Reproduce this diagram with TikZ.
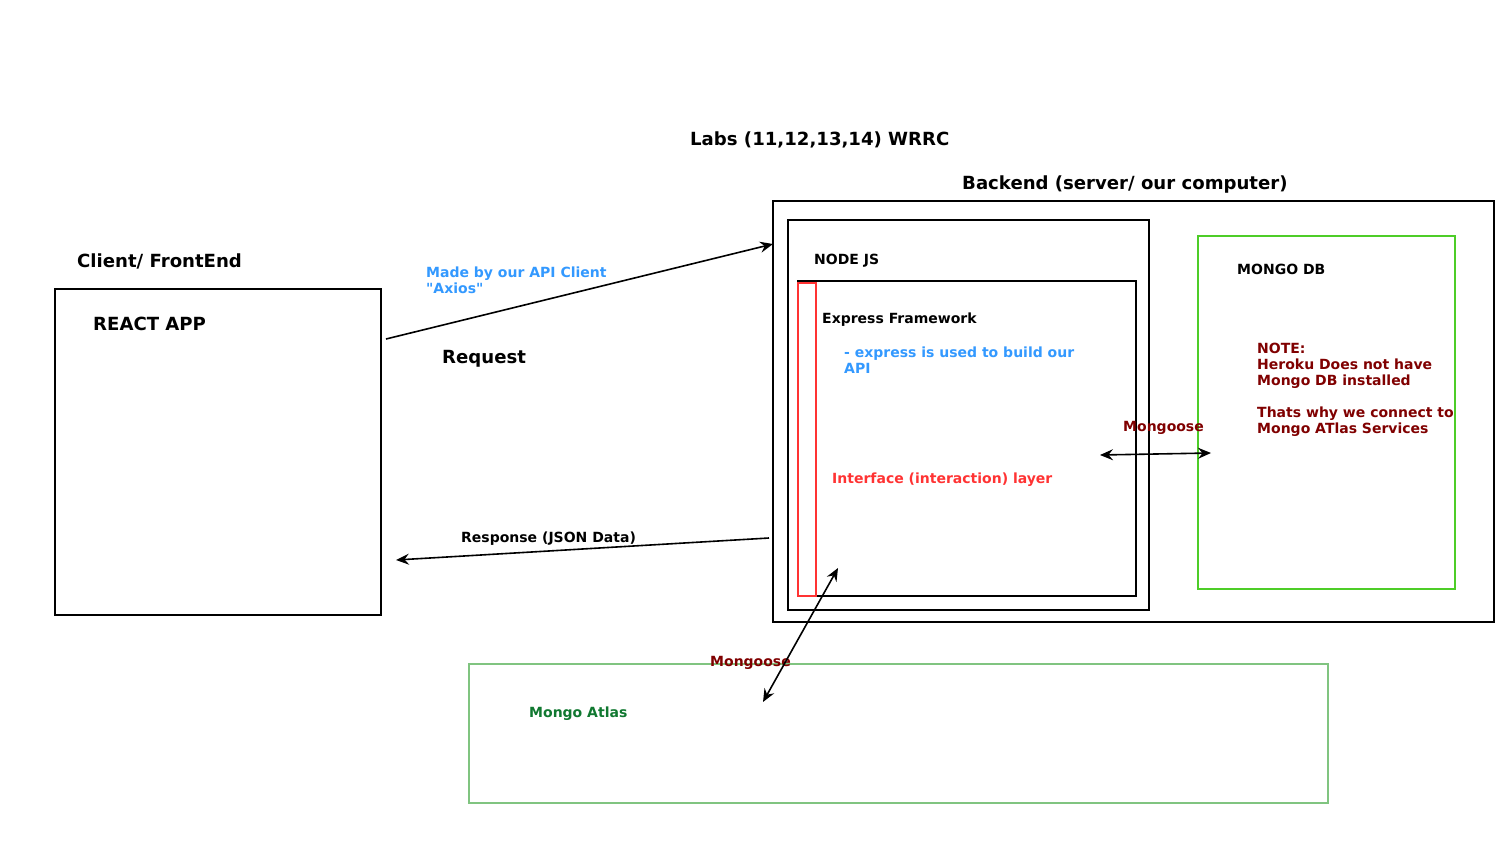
\documentclass[tikz,border=0pt]{standalone}
\usepackage{fontspec}
\setmainfont{DejaVu Sans}[Ligatures=TeXOff]
\usetikzlibrary{arrows.meta}
\definecolor{apiblue}{RGB}{51,153,255}
\definecolor{notered}{RGB}{128,0,0}
\definecolor{layerred}{RGB}{255,51,51}
\definecolor{dbgreen}{RGB}{77,205,40}
\definecolor{atlasgreen}{RGB}{128,196,128}
\definecolor{atlastext}{RGB}{16,120,48}
\begin{document}
\begin{tikzpicture}[x=1pt,y=-1pt,
  box/.style={draw=black,line width=1.6pt,inner sep=0pt,outer sep=0pt,anchor=north west},
  big/.style={inner sep=0pt,anchor=base west,font=\fontsize{18.1}{20}\selectfont\bfseries},
  small/.style={inner sep=0pt,anchor=base west,align=left,font=\fontsize{14}{16}\selectfont\bfseries},
  conn/.style={line width=1.6pt,-{Stealth[length=13pt,width=11pt,inset=4.5pt]}},
  dconn/.style={line width=1.6pt,{Stealth[length=13pt,width=11pt,inset=4.5pt]}-{Stealth[length=13pt,width=11pt,inset=4.5pt]}}]
\useasboundingbox (0,0) rectangle (1512,851);
\fill[white] (0,0) rectangle (1512,851);

% boxes
\node[box,minimum width=326pt,minimum height=326pt] (client) at (55,289) {};
\node[box,minimum width=721pt,minimum height=421pt] (backend) at (773,201) {};
\node[box,minimum width=361pt,minimum height=390pt] (nodejs) at (788,220) {};
\node[box,minimum width=338pt,minimum height=315pt] (express) at (798,281) {};
\node[box,draw=layerred,line width=1.4pt,minimum width=18pt,minimum height=313pt] (iface) at (798,283) {};
\node[box,draw=dbgreen,line width=1.6pt,minimum width=257pt,minimum height=353pt] (mongodb) at (1198,236) {};
\node[box,draw=atlasgreen,line width=1.6pt,minimum width=859pt,minimum height=139pt] (atlas) at (469,664) {};

% texts
\node[big] (title) at (690,145.5) {Labs (11,12,13,14) WRRC};
\node[big] (backendlbl) at (962,189.5) {Backend (server/ our computer)};
\node[big] (clientlbl) at (77,267.5) {Client/ FrontEnd};
\node[big] (reactlbl) at (93,330.5) {REACT APP};
\node[big] (reqlbl) at (442,363.5) {Request};
\node[small,text=apiblue] (axioslbl) at (426,293) {Made by our API Client\\"Axios"};
\node[small] (resplbl) at (461,542) {Response (JSON Data)};
\node[small] (nodelbl) at (814,264) {NODE JS};
\node[small] (expresslbl) at (822,323) {Express Framework};
\node[small,text=apiblue] (expressnote) at (844,373) {- express is used to build our\\API};
\node[small,text=layerred] (ifacelbl) at (832,483) {Interface (interaction) layer};
\node[small] (mongolbl) at (1237,274) {MONGO DB};
\node[small,text=notered] (note) at (1257,433) {NOTE:\\Heroku Does not have\\Mongo DB installed\\[16pt]Thats why we connect to\\Mongo ATlas Services};
\node[small,text=notered] (mgright) at (1123,431) {Mongoose};
\node[small,text=notered] (mgbottom) at (710,666) {Mongoose};
\node[small,text=atlastext] (atlaslbl) at (529,717) {Mongo Atlas};

% connector ends
\coordinate (reqstart) at (386,339);
\coordinate (reqend) at (773,244);
\coordinate (respstart) at (769,538);
\coordinate (respend) at (396,560);
\coordinate (mra) at (1100,455);
\coordinate (mrb) at (1211,453);
\coordinate (mba) at (838,568);
\coordinate (mbb) at (763,702);

\draw[conn] (reqstart) -- (reqend);
\draw[conn] (respstart) -- (respend);
\draw[dconn] (mra) -- (mrb);
\draw[dconn] (mba) -- (mbb);
\end{tikzpicture}
\end{document}
